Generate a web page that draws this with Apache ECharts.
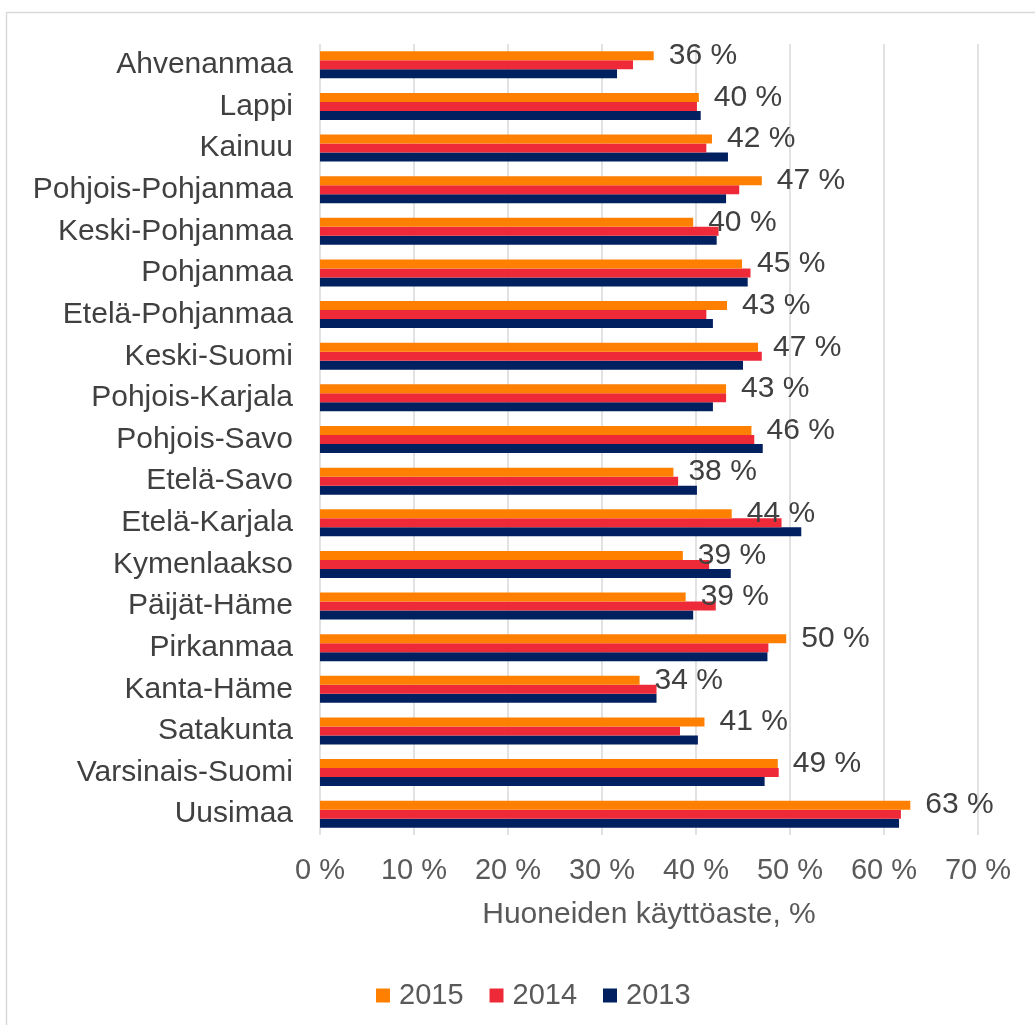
<!DOCTYPE html>
<html>
<head>
<meta charset="utf-8">
<script src="https://cdn.jsdelivr.net/npm/echarts@6/dist/echarts.min.js"></script>
<style>
  html, body { margin: 0; padding: 0; background: #fff; }
  #chart { width: 1035px; height: 1025px; }
</style>
</head>
<body>
<div id="chart"></div>
<script>
// regions, top to bottom as in the picture
const regions = [
  "Ahvenanmaa", "Lappi", "Kainuu", "Pohjois-Pohjanmaa", "Keski-Pohjanmaa",
  "Pohjanmaa", "Etelä-Pohjanmaa", "Keski-Suomi", "Pohjois-Karjala", "Pohjois-Savo",
  "Etelä-Savo", "Etelä-Karjala", "Kymenlaakso", "Päijät-Häme", "Pirkanmaa",
  "Kanta-Häme", "Satakunta", "Varsinais-Suomi", "Uusimaa"
];
const years = ["2015", "2014", "2013"];
const values2015 = [35.5, 40.3, 41.7, 47.0, 39.7, 44.9, 43.3, 46.6, 43.2, 45.9,
                    37.6, 43.8, 38.6, 38.9, 49.6, 34.0, 40.9, 48.7, 62.8];
const values2014 = [33.3, 40.1, 41.1, 44.6, 42.4, 45.8, 41.1, 47.0, 43.2, 46.2,
                    38.1, 49.1, 41.4, 42.1, 47.7, 35.8, 38.3, 48.8, 61.8];
const values2013 = [31.6, 40.5, 43.4, 43.2, 42.2, 45.5, 41.8, 45.0, 41.8, 47.1,
                    40.1, 51.2, 43.7, 39.7, 47.6, 35.8, 40.2, 47.3, 61.6];
const xTicks = [0, 10, 20, 30, 40, 50, 60, 70];

const colors = ["#FF8000", "#EE2A39", "#00205F"];
const font = "Liberation Sans, Arial, sans-serif";

const chart = echarts.init(document.getElementById("chart"));

function barSeries(name, data, idx, withLabel) {
  return {
    name: name,
    type: "bar",
    data: data,
    barWidth: 9,
    barGap: "0%",
    itemStyle: { color: colors[idx] },
    label: {
      show: withLabel,
      position: "right",
      distance: 15,
      fontFamily: font,
      fontSize: 30,
      color: "#404040",
      formatter: (p) => Math.round(p.value) + " %",
    },
    z: 3 - idx,
  };
}

chart.setOption({
  animation: false,
  textStyle: { fontFamily: font },
  graphic: [
    {
      type: "rect",
      shape: { x: 6.5, y: 12.5, width: 1040, height: 1030 },
      style: { fill: "none", stroke: "#D9D9D9", lineWidth: 1.5 },
      silent: true,
    },
  ],
  grid: { left: 320, right: 57, top: 44, bottom: 190 },
  legend: {
    data: years,
    top: 976,
    left: 371,
    itemWidth: 14,
    itemHeight: 14,
    itemGap: 26,
    icon: "rect",
    textStyle: {
      fontFamily: font,
      fontSize: 29,
      color: "#595959",
      padding: [0, 0, 0, 4],
    },
  },
  xAxis: {
    type: "value",
    min: xTicks[0],
    max: xTicks[xTicks.length - 1],
    interval: 10,
    name: "Huoneiden käyttöaste, %",
    nameLocation: "middle",
    nameGap: 65,
    nameTextStyle: { fontFamily: font, fontSize: 30, color: "#595959" },
    axisLine: { show: false },
    axisTick: { show: false },
    axisLabel: {
      margin: 21,
      fontFamily: font,
      fontSize: 29,
      color: "#595959",
      formatter: (v) => v + " %",
    },
    splitLine: { show: true, lineStyle: { color: "#D9D9D9", width: 1.5 } },
  },
  yAxis: {
    type: "category",
    data: regions,
    inverse: true,
    axisLine: { show: false },
    axisTick: { show: false },
    axisLabel: {
      margin: 27,
      fontFamily: font,
      fontSize: 30,
      color: "#404040",
    },
  },
  series: [
    barSeries(years[0], values2015, 0, true),
    barSeries(years[1], values2014, 1, false),
    barSeries(years[2], values2013, 2, false),
  ],
});
</script>
</body>
</html>
